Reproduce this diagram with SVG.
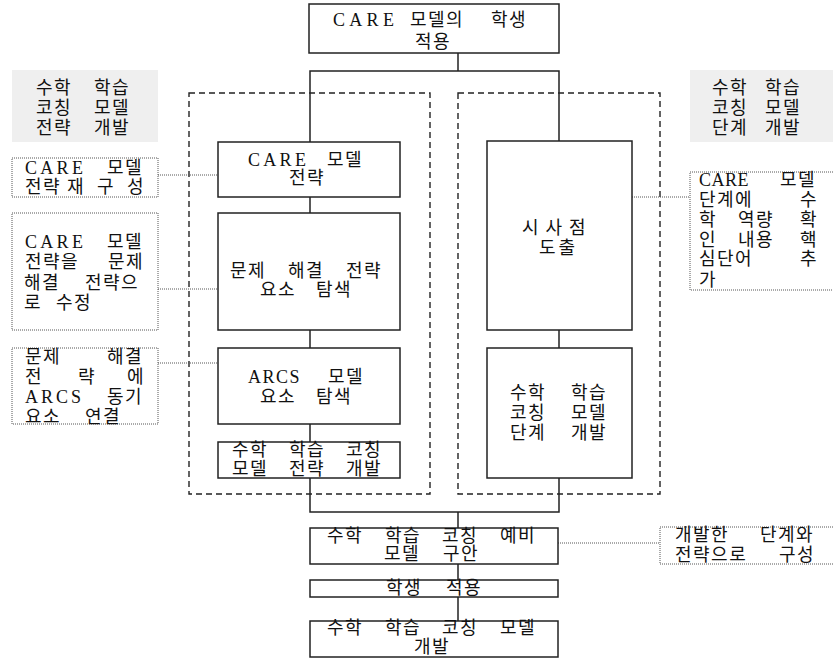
<svg xmlns="http://www.w3.org/2000/svg" width="833" height="658" viewBox="0 0 833 658">
<style>
text{font-family:"Liberation Serif","Noto Sans CJK KR",serif;font-size:18px;fill:#111;letter-spacing:1.5px}
.lat{letter-spacing:3.3px}
.box{fill:#fff;stroke:#222;stroke-width:1.5}
.gray{fill:#efefef;stroke:none}
.dot{fill:#fff;stroke:#555;stroke-width:1;stroke-dasharray:1 1}
.frame{fill:none;stroke:#222;stroke-width:1.4;stroke-dasharray:6 4}
.line{fill:none;stroke:#222;stroke-width:1.5}
.dline{fill:none;stroke:#555;stroke-width:1;stroke-dasharray:1 1}
</style>
<rect width="833" height="658" fill="#fff"/>
<g id="frames">
<rect class="frame" x="189" y="93" width="241" height="401"/>
<rect class="frame" x="458" y="93" width="202" height="401"/>
</g>
<g id="connectors">
<line class="line" x1="458" y1="53" x2="458" y2="71"/>
<polyline class="line" points="310,142 310,71 559,71 559,141"/>
<line class="line" x1="310" y1="197" x2="310" y2="213"/>
<line class="line" x1="310" y1="330" x2="310" y2="348"/>
<line class="line" x1="310" y1="424" x2="310" y2="442"/>
<polyline class="line" points="310,478 310,512 559,512 559,478"/>
<line class="line" x1="559" y1="330" x2="559" y2="348"/>
<line class="line" x1="458" y1="512" x2="458" y2="528"/>
<line class="line" x1="458" y1="564" x2="458" y2="580"/>
<line class="line" x1="458" y1="597" x2="458" y2="621"/>
<line class="dline" x1="158" y1="175" x2="218" y2="175"/>
<line class="dline" x1="158" y1="289" x2="218" y2="289"/>
<line class="dline" x1="158" y1="363" x2="218" y2="363"/>
<line class="dline" x1="632" y1="197" x2="690" y2="197"/>
<line class="dline" x1="558" y1="543" x2="660" y2="543"/>
</g>
<g id="top">
<rect class="box" x="309" y="4" width="250" height="49"/>
<text y="26"><tspan x="333" style="letter-spacing:4.3px">CARE</tspan><tspan x="410">모델의</tspan><tspan x="491">학생</tspan></text>
<text x="415" y="48">적용</text>
</g>
<g id="label-left">
<rect class="gray" x="12" y="70" width="146" height="72"/>
<text y="94"><tspan x="36">수학</tspan><tspan x="94">학습</tspan></text>
<text y="114"><tspan x="36">코칭</tspan><tspan x="94">모델</tspan></text>
<text y="134"><tspan x="36">전략</tspan><tspan x="94">개발</tspan></text>
</g>
<g id="label-right">
<rect class="gray" x="690" y="70" width="143" height="72"/>
<text y="94"><tspan x="712">수학</tspan><tspan x="765">학습</tspan></text>
<text y="114"><tspan x="712">코칭</tspan><tspan x="765">모델</tspan></text>
<text y="134"><tspan x="712">단계</tspan><tspan x="765">개발</tspan></text>
</g>
<g id="care-strategy">
<rect class="box" x="218" y="142" width="182" height="55"/>
<text y="166"><tspan x="248" class="lat">CARE</tspan><tspan x="327">모델</tspan></text>
<text x="289" y="184">전략</text>
</g>
<g id="problem-solving">
<rect class="box" x="218" y="213" width="182" height="117"/>
<text y="277"><tspan x="230">문제</tspan><tspan x="288">해결</tspan><tspan x="346">전략</tspan></text>
<text y="296"><tspan x="260">요소</tspan><tspan x="316">탐색</tspan></text>
</g>
<g id="arcs">
<rect class="box" x="218" y="348" width="182" height="76"/>
<text y="383"><tspan x="248" style="letter-spacing:1.5px">ARCS</tspan><tspan x="328">모델</tspan></text>
<text y="403"><tspan x="260">요소</tspan><tspan x="316">탐색</tspan></text>
</g>
<g id="strategy-dev">
<rect class="box" x="218" y="442" width="182" height="36"/>
<text y="456"><tspan x="232">수학</tspan><tspan x="289">학습</tspan><tspan x="346">코칭</tspan></text>
<text y="475"><tspan x="232">모델</tspan><tspan x="289">전략</tspan><tspan x="346">개발</tspan></text>
</g>
<g id="note1">
<rect class="dot" x="12" y="158" width="146" height="39"/>
<text y="174"><tspan x="25" class="lat">CARE</tspan><tspan x="107">모델</tspan></text>
<text y="193"><tspan x="25">전략</tspan><tspan x="67 97 127">재구성</tspan></text>
</g>
<g id="note2">
<rect class="dot" x="12" y="213" width="146" height="117"/>
<text y="248"><tspan x="25" class="lat">CARE</tspan><tspan x="107">모델</tspan></text>
<text y="268"><tspan x="25">전략을</tspan><tspan x="108">문제</tspan></text>
<text y="289"><tspan x="24">해결</tspan><tspan x="85">전략으</tspan></text>
<text y="309"><tspan x="24">로</tspan><tspan x="56">수정</tspan></text>
</g>
<g id="note3">
<rect class="dot" x="12" y="348" width="146" height="76"/>
<text y="363"><tspan x="25">문제</tspan><tspan x="107">해결</tspan></text>
<text y="383"><tspan x="25">전</tspan><tspan x="78">략</tspan><tspan x="127">에</tspan></text>
<text y="403"><tspan x="25" style="letter-spacing:3px">ARCS</tspan><tspan x="107">동기</tspan></text>
<text y="423"><tspan x="25">요소</tspan><tspan x="85">연결</tspan></text>
</g>
<g id="insight">
<rect class="box" x="487" y="141" width="145" height="189"/>
<text x="522" y="234" style="letter-spacing:7px">시사점</text>
<text x="539" y="254" style="letter-spacing:3px">도출</text>
</g>
<g id="stage-dev">
<rect class="box" x="487" y="348" width="145" height="130"/>
<text y="399"><tspan x="510">수학</tspan><tspan x="571">학습</tspan></text>
<text y="419"><tspan x="510">코칭</tspan><tspan x="571">모델</tspan></text>
<text y="439"><tspan x="510">단계</tspan><tspan x="571">개발</tspan></text>
</g>
<g id="note4">
<rect class="dot" x="690" y="172" width="150" height="118"/>
<text y="186"><tspan x="699" style="letter-spacing:0.5px">CARE</tspan><tspan x="780">모델</tspan></text>
<text y="206"><tspan x="699">단계에</tspan><tspan x="800">수</tspan></text>
<text y="226"><tspan x="699">학</tspan><tspan x="738">역량</tspan><tspan x="800">확</tspan></text>
<text y="246"><tspan x="699">인</tspan><tspan x="738">내용</tspan><tspan x="800">핵</tspan></text>
<text y="265"><tspan x="699">심단어</tspan><tspan x="800">추</tspan></text>
<text x="699" y="286">가</text>
</g>
<g id="preliminary">
<rect class="box" x="310" y="528" width="248" height="36"/>
<text y="542"><tspan x="327">수학</tspan><tspan x="385">학습</tspan><tspan x="442">코칭</tspan><tspan x="500">예비</tspan></text>
<text y="560"><tspan x="384">모델</tspan><tspan x="443">구안</tspan></text>
</g>
<g id="apply">
<rect class="box" x="310" y="580" width="248" height="17"/>
<text y="594"><tspan x="386">학생</tspan><tspan x="446">적용</tspan></text>
</g>
<g id="final">
<rect class="box" x="310" y="621" width="248" height="36"/>
<text y="634"><tspan x="327">수학</tspan><tspan x="385">학습</tspan><tspan x="442">코칭</tspan><tspan x="500">모델</tspan></text>
<text x="414" y="653">개발</text>
</g>
<g id="note5">
<rect class="dot" x="660" y="527" width="180" height="37"/>
<text y="541"><tspan x="675">개발한</tspan><tspan x="760">단계와</tspan></text>
<text y="561"><tspan x="675">전략으로</tspan><tspan x="779">구성</tspan></text>
</g>
</svg>
